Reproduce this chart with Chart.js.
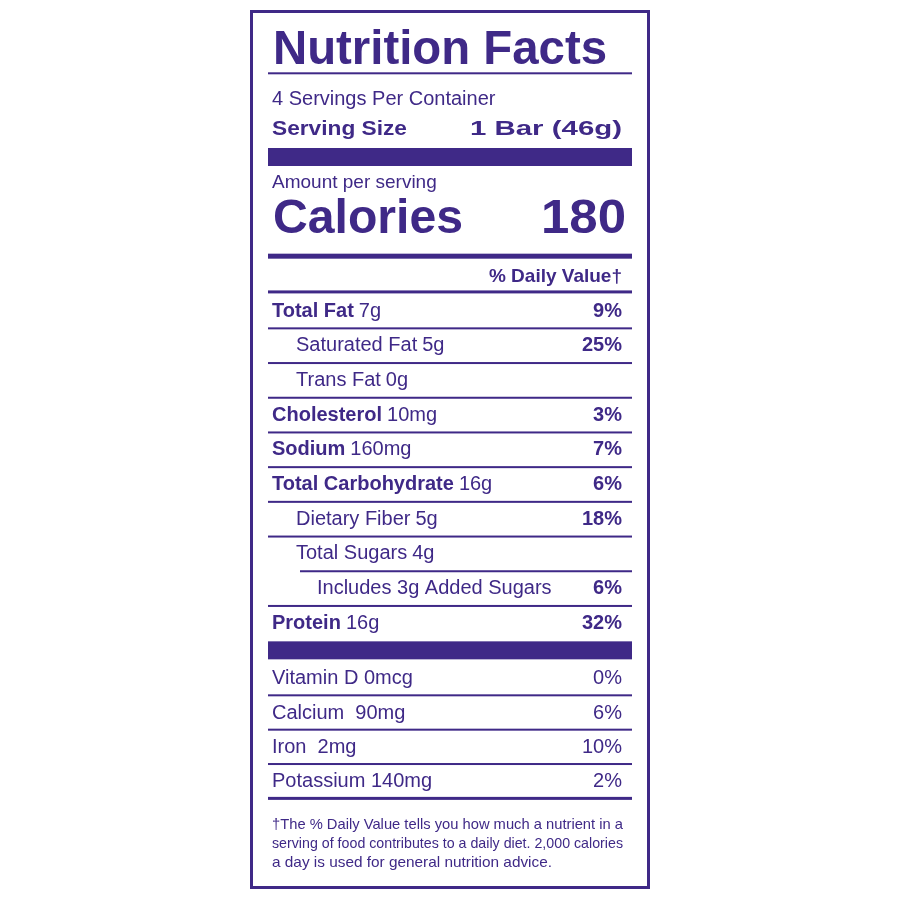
<!DOCTYPE html>
<html><head><meta charset="utf-8">
<script src="https://cdn.jsdelivr.net/npm/chart.js"></script>
<style>html,body{margin:0;padding:0;background:#fff}#w{width:900px;height:900px}</style>
</head><body><div id="w"><canvas id="c"></canvas></div>
<script>
const nutrients = ["Total Fat","Saturated Fat","Trans Fat","Cholesterol","Sodium","Total Carbohydrate","Dietary Fiber","Total Sugars","Includes 3g Added Sugars","Protein"];
const amounts = ["7g","5g","0g","10mg","160mg","16g","5g","4g","","16g"];
const dailyValues = ["9%","25%","","3%","7%","6%","18%","","6%","32%"];
const indents = [0,1,1,0,0,0,1,1,2,0];
const vitamins = ["Vitamin D","Calcium","Iron","Potassium"];
const vitaminAmounts = ["0mcg"," 90mg"," 2mg","140mg"];
const vitaminDV = ["0%","6%","10%","2%"];
const servingsText = "4 Servings Per Container";
const servingSize = ["Serving Size","1 Bar (46g)"];
const calories = 180;
const footnote = ["†The % Daily Value tells you how much a nutrient in a","serving of food contributes to a daily diet. 2,000 calories","a day is used for general nutrition advice."];

const PURPLE = "#3f2987";
const F = '"Liberation Sans", Arial, sans-serif';
const L = 268, R = 632, TX = 272, PX = 622;

function txt(ctx, s, x, y, size, bold, align, w){
  ctx.font = (bold?"bold ":"") + size + "px " + F;
  ctx.textAlign = "left"; ctx.textBaseline = "middle";
  const mw = ctx.measureText(s).width;
  const sx = w ? w/mw : 1;
  const ww = mw*sx;
  const x0 = align==="right" ? x-ww : x;
  ctx.save(); ctx.translate(x0,y); ctx.scale(sx,1); ctx.fillText(s,0,0); ctx.restore();
  return x0+ww;
}
function hline(ctx,x1,x2,y,h){ctx.fillRect(x1,y-h/2,x2-x1,h);}

const labelPlugin = {
  id:"label",
  afterDraw(chart){
    const ctx = chart.ctx, ys = chart.scales.y;
    const py = v => ys.getPixelForValue(v);
    ctx.save(); ctx.fillStyle = PURPLE;
    ctx.strokeStyle = PURPLE; ctx.lineWidth = 3; ctx.strokeRect(251.5,11.5,397,876);
    txt(ctx,"Nutrition Facts",273,py(-7.5),48,true,"left",334);
    hline(ctx,L,R,py(-6.85),2);
    txt(ctx,servingsText,TX,py(-6.1),20,false);
    txt(ctx,servingSize[0],TX,py(-5.24),21,true,"left",135);
    txt(ctx,servingSize[1],470,py(-5.24),21,true,"left",152);
    ctx.fillRect(L,148,R-L,18);
    txt(ctx,"Amount per serving",TX,py(-3.69),19,false);
    txt(ctx,"Calories",273,py(-2.62),48,true,"left",190);
    txt(ctx,String(calories),626,py(-2.62),48,true,"right",85);
    hline(ctx,L,R,py(-1.58),5);
    txt(ctx,"% Daily Value†",PX,py(-1.0),19,true,"right");
    hline(ctx,L,R,py(-0.55),3);
    nutrients.forEach((n,i)=>{
      const y = py(i), x = TX + indents[i]*24 + (indents[i]===2?-3:0);
      const bold = indents[i]===0;
      const e = txt(ctx,n,x,y,20,bold);
      if(amounts[i]) txt(ctx,amounts[i],e+5,y,20,false);
      if(dailyValues[i]) txt(ctx,dailyValues[i],PX,y,20,true,"right");
      if(i<nutrients.length-1){
        const ls = (i===7)? 300 : L;
        hline(ctx,ls,R,py(i+0.5),2);
      }
    });
    ctx.fillRect(L,py(9.52),R-L,18);
    vitamins.forEach((v,i)=>{
      const y = py(10.6+i*0.99);
      txt(ctx,v+" "+vitaminAmounts[i],TX,y,20,false);
      txt(ctx,vitaminDV[i],PX,y,20,false,"right");
      hline(ctx,L,R,y+16.5,i===3?3:2);
    });
    footnote.forEach((f,i)=>txt(ctx,f,TX,825+i*19,14.5,false,"left",i===0?351:i===1?351:280));
    ctx.restore();
  }
};

new Chart(document.getElementById("c"),{
  type:"scatter",
  data:{datasets:[{data:nutrients.map((n,i)=>({x:0,y:i})),pointRadius:0}]},
  options:{responsive:true,maintainAspectRatio:false,animation:false,
    layout:{padding:0},
    plugins:{legend:{display:false},tooltip:{enabled:false}},
    scales:{x:{display:false,min:-1,max:1},
      y:{display:false,reverse:true,min:-311/34.7,max:-311/34.7+900/34.7}}},
  plugins:[labelPlugin]
});
</script></body></html>
